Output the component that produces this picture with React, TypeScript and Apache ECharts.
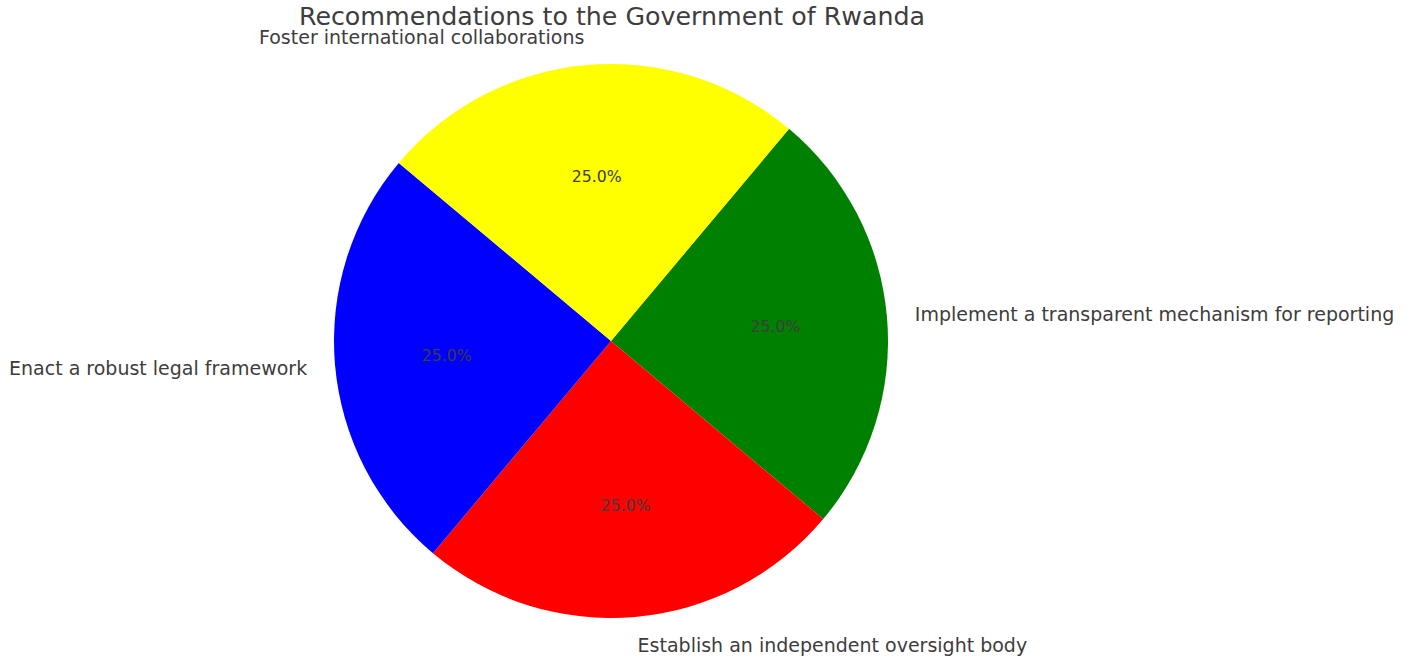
import React, { useEffect, useRef } from "react";
import * as echarts from "echarts";

const categories = [
  "Implement a transparent mechanism for reporting",
  "Establish an independent oversight body",
  "Enact a robust legal framework",
  "Foster international collaborations",
];
const values = [25, 25, 25, 25];
const colors = ["#008000", "#ff0000", "#0000ff", "#ffff00"];
const titleText = "Recommendations to the Government of Rwanda";

export default function App() {
  const ref = useRef<HTMLDivElement>(null);
  useEffect(() => {
    if (!ref.current) return;
    const chart = echarts.init(ref.current, undefined, { renderer: "svg" });
    const total = values.reduce((a, b) => a + b, 0);
    const data = categories.map((name, i) => ({
      name,
      value: values[i],
      itemStyle: { color: colors[i] },
    }));
    const font = "DejaVu Sans";
    const textColor = "#3d3d3d";
    const R = 277;
    chart.setOption({
      animation: false,
      backgroundColor: "#ffffff",
      title: {
        text: titleText,
        left: 607,
        textAlign: "center",
        top: -1,
        textStyle: { fontFamily: font, fontSize: 25.3, fontWeight: "normal", color: textColor },
      },
      series: [
        {
          type: "pie",
          center: [611, 341],
          radius: [0, R],
          startAngle: 50,
          clockwise: true,
          avoidLabelOverlap: false,
          silent: true,
          data,
          label: {
            show: true,
            position: "outside",
            formatter: "{b}",
            fontFamily: font,
            fontSize: 19,
            color: textColor,
            distanceToLabelLine: 0,
          },
          labelLine: { show: false, length: 28, length2: 0 },
        },
        {
          type: "pie",
          center: [611, 341],
          radius: [47, R],
          startAngle: 50,
          clockwise: true,
          avoidLabelOverlap: false,
          silent: true,
          data: data.map((d) => ({ ...d, itemStyle: { color: "transparent" } })),
          label: {
            show: true,
            position: "inside",
            formatter: (p: any) => ((p.value / total) * 100).toFixed(1) + "%",
            fontFamily: font,
            fontSize: 15.7,
            color: textColor,
          },
          labelLine: { show: false },
        },
      ],
    });
    return () => chart.dispose();
  }, []);
  return (
    <div
      ref={ref}
      style={{ position: "fixed", left: 0, top: 0, width: 1411, height: 659 }}
    />
  );
}
